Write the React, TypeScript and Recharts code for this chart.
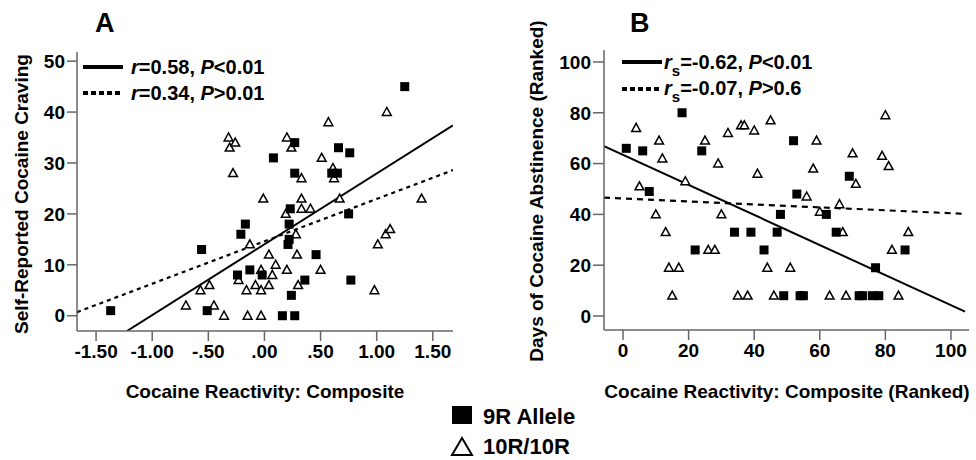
import * as React from "react";
import {
  ReferenceLine,
  Scatter,
  ScatterChart,
  XAxis,
  YAxis,
} from "recharts";

// Panel A: composite reactivity vs craving
const aAllele9R: [number, number][] = [
  [-1.37, 1], [-0.56, 13], [-0.51, 1], [-0.24, 8], [-0.21, 16], [-0.17, 18],
  [-0.13, 9], [-0.02, 8], [0.08, 31], [0.16, 0], [0.21, 14], [0.22, 15],
  [0.22, 18], [0.23, 21], [0.24, 4], [0.27, 0], [0.27, 34], [0.27, 28],
  [0.36, 7], [0.46, 12], [0.6, 28], [0.65, 28], [0.66, 33], [0.75, 20],
  [0.76, 32], [0.77, 7], [1.25, 45],
];
const a10R10R: [number, number][] = [
  [-0.7, 2], [-0.57, 5], [-0.49, 6], [-0.45, 2], [-0.36, 0], [-0.32, 35],
  [-0.31, 33], [-0.28, 28], [-0.26, 34], [-0.23, 7], [-0.16, 5], [-0.15, 0],
  [-0.13, 14], [-0.08, 6], [-0.03, 9], [-0.03, 5], [-0.03, 0], [-0.01, 23],
  [0.04, 12], [0.04, 6], [0.07, 8], [0.1, 10], [0.19, 20], [0.2, 35],
  [0.2, 9], [0.24, 33], [0.28, 16], [0.29, 12], [0.3, 6], [0.33, 27],
  [0.33, 23], [0.33, 21], [0.41, 21], [0.5, 9], [0.51, 31], [0.57, 38],
  [0.61, 29], [0.62, 27], [0.67, 23], [0.98, 5], [1.01, 14], [1.08, 16],
  [1.12, 17], [1.09, 40], [1.4, 23],
];
const aFitAll: [number, number][] = [[-1.225, -3], [1.68, 37.4]];
const aFit10R: [number, number][] = [[-1.67, 0.7], [1.68, 28.6]];
const aXTicks = [-1.5, -1, -0.5, 0, 0.5, 1, 1.5];
const aXTickLabels = ["-1.50", "-1.00", "-.50", ".00", ".50", "1.00", "1.50"];
const aYTicks = [0, 10, 20, 30, 40, 50];

// Panel B: ranked reactivity vs ranked abstinence
const bAllele9R: [number, number][] = [
  [1, 66], [6, 65], [8, 49], [18, 80], [22, 26], [24, 65], [34, 33], [39, 33],
  [43, 26], [47, 33], [48, 40], [49, 8], [52, 69], [53, 48], [54, 8], [55, 8],
  [62, 40], [65, 33], [69, 55], [72, 8], [73, 8], [76, 8], [77, 19], [78, 8],
  [86, 26],
];
const b10R10R: [number, number][] = [
  [4, 74], [5, 51], [10, 40], [11, 69], [12, 62], [13, 33], [14, 19], [15, 8],
  [17, 19], [19, 53], [25, 69], [26, 26], [28, 26], [29, 60], [30, 40],
  [32, 72], [35, 8], [36, 75], [37, 75], [38, 8], [40, 73], [41, 56], [44, 19],
  [45, 77], [46, 8], [51, 19], [56, 47], [58, 58], [59, 69], [60, 41], [63, 8],
  [66, 44], [67, 33], [68, 8], [70, 64], [71, 52], [79, 63], [80, 79], [81, 59],
  [82, 26], [84, 8], [87, 33],
];
const bFitAll: [number, number][] = [[-5.8, 66.9], [104.3, 1.7]];
const bFit10R: [number, number][] = [[-5.8, 46.6], [104.3, 40.2]];
const bTicks = [0, 20, 40, 60, 80, 100];

const FONT = "'Liberation Sans', Arial, Helvetica, sans-serif";
const AXIS = "#666";

const toPts = (arr: [number, number][]) => arr.map(([x, y]) => ({ x, y }));

const tickStyle = { fontSize: 19, fontWeight: "bold", fill: "#000", fontFamily: FONT };

function SquareMark(p: any) {
  return <rect x={p.cx - 4.5} y={p.cy - 4.5} width={9} height={9} fill="#000" />;
}

function TriMark(p: any) {
  const { cx, cy } = p;
  return (
    <path
      d={`M${cx},${cy - 4.6} L${cx + 4.4},${cy + 3.4} L${cx - 4.4},${cy + 3.4} Z`}
      fill="#fff"
      stroke="#000"
      strokeWidth={1.5}
    />
  );
}

function LineSample({ dash }: { dash?: string }) {
  return (
    <svg width={40} height={6} style={{ display: "block" }}>
      <line x1={0} y1={3} x2={40} y2={3} stroke="#000" strokeWidth={4} strokeDasharray={dash} />
    </svg>
  );
}

const abs = (left: number, top: number, extra?: React.CSSProperties): React.CSSProperties => ({
  position: "absolute",
  left,
  top,
  whiteSpace: "nowrap",
  fontFamily: FONT,
  fontWeight: "bold",
  color: "#000",
  ...extra,
});

const legendText = { fontSize: 20, lineHeight: "22px" };
const subS = { fontSize: 15, verticalAlign: "-7px", lineHeight: 0 };

export default function App() {
  return (
    <div
      style={{
        position: "absolute",
        left: 0,
        top: 0,
        width: 976,
        height: 460,
        background: "#fff",
        overflow: "hidden",
        fontFamily: FONT,
      }}
    >
      {/* Panel A */}
      <div style={{ position: "absolute", left: 0, top: 0 }}>
        <ScatterChart width={460} height={410} margin={{ top: 52, right: 7, bottom: 0, left: 0 }}>
          <XAxis
            type="number"
            dataKey="x"
            domain={[-1.67, 1.68]}
            ticks={aXTicks}
            tickFormatter={(v: number) => aXTickLabels[aXTicks.indexOf(v)] ?? String(v)}
            allowDataOverflow
            height={79}
            tickSize={10}
            tickMargin={4}
            tick={tickStyle}
            axisLine={{ stroke: AXIS, strokeWidth: 1.5 }}
            tickLine={{ stroke: AXIS, strokeWidth: 1.5 }}
          />
          <YAxis
            type="number"
            dataKey="y"
            domain={[-3, 51.8]}
            ticks={aYTicks}
            allowDataOverflow
            width={77}
            tickSize={10}
            tickMargin={2}
            tick={tickStyle}
            axisLine={{ stroke: AXIS, strokeWidth: 1.5 }}
            tickLine={{ stroke: AXIS, strokeWidth: 1.5 }}
          />
          <ReferenceLine segment={toPts(aFitAll)} stroke="#000" strokeWidth={2} ifOverflow="hidden" />
          <ReferenceLine
            segment={toPts(aFit10R)}
            stroke="#000"
            strokeWidth={2.2}
            strokeDasharray="4 4"
            ifOverflow="hidden"
          />
          <Scatter data={toPts(a10R10R)} shape={TriMark} isAnimationActive={false} />
          <Scatter data={toPts(aAllele9R)} shape={SquareMark} isAnimationActive={false} />
        </ScatterChart>
      </div>

      {/* Panel B */}
      <div style={{ position: "absolute", left: 480, top: 0 }}>
        <ScatterChart width={496} height={410} margin={{ top: 50, right: 7, bottom: 0, left: 0 }}>
          <XAxis
            type="number"
            dataKey="x"
            domain={[-5.8, 105.5]}
            ticks={bTicks}
            allowDataOverflow
            height={80}
            tickSize={10}
            tickMargin={4}
            tick={tickStyle}
            axisLine={{ stroke: AXIS, strokeWidth: 1.5 }}
            tickLine={{ stroke: AXIS, strokeWidth: 1.5 }}
          />
          <YAxis
            type="number"
            dataKey="y"
            domain={[-5.5, 104.7]}
            ticks={bTicks}
            allowDataOverflow
            width={124}
            tickSize={11}
            tickMargin={2}
            tick={tickStyle}
            axisLine={{ stroke: AXIS, strokeWidth: 1.5 }}
            tickLine={{ stroke: AXIS, strokeWidth: 1.5 }}
          />
          <ReferenceLine segment={toPts(bFitAll)} stroke="#000" strokeWidth={2} ifOverflow="hidden" />
          <ReferenceLine
            segment={toPts(bFit10R)}
            stroke="#000"
            strokeWidth={2.2}
            strokeDasharray="6 5"
            ifOverflow="hidden"
          />
          <Scatter data={toPts(b10R10R)} shape={TriMark} isAnimationActive={false} />
          <Scatter data={toPts(bAllele9R)} shape={SquareMark} isAnimationActive={false} />
        </ScatterChart>
      </div>

      {/* panel letters */}
      <div style={abs(95, 6, { fontSize: 27, lineHeight: "34px" })}>A</div>
      <div style={abs(630, 6, { fontSize: 27, lineHeight: "34px" })}>B</div>

      {/* axis titles */}
      <div
        style={abs(22, 194, {
          fontSize: 19,
          lineHeight: "22px",
          transform: "translate(-50%, -50%) rotate(-90deg)",
        })}
      >
        Self-Reported Cocaine Craving
      </div>
      <div style={abs(265, 392, { fontSize: 19, lineHeight: "22px", transform: "translate(-50%, -50%)" })}>
        Cocaine Reactivity: Composite
      </div>
      <div
        style={abs(537, 191, {
          fontSize: 19,
          lineHeight: "22px",
          transform: "translate(-50%, -50%) rotate(-90deg)",
        })}
      >
        Days of Cocaine Abstinence (Ranked)
      </div>
      <div style={abs(787, 392, { fontSize: 19, lineHeight: "22px", transform: "translate(-50%, -50%)" })}>
        Cocaine Reactivity: Composite (Ranked)
      </div>

      {/* in-plot legend A */}
      <div style={abs(83, 64)}>
        <LineSample />
      </div>
      <div style={abs(131, 56, legendText)}>
        <i>r</i>=0.58, <i>P</i>&lt;0.01
      </div>
      <div style={abs(83, 90)}>
        <LineSample dash="5 3" />
      </div>
      <div style={abs(131, 82, legendText)}>
        <i>r</i>=0.34, <i>P</i>&gt;0.01
      </div>

      {/* in-plot legend B */}
      <div style={abs(622, 59)}>
        <LineSample />
      </div>
      <div style={abs(664, 51, legendText)}>
        <i>r</i>
        <sub style={subS}>s</sub>=-0.62, <i>P</i>&lt;0.01
      </div>
      <div style={abs(622, 86)}>
        <LineSample dash="5 3" />
      </div>
      <div style={abs(664, 77, legendText)}>
        <i>r</i>
        <sub style={subS}>s</sub>=-0.07, <i>P</i>&gt;0.6
      </div>

      {/* group legend */}
      <svg style={{ position: "absolute", left: 450, top: 402 }} width={26} height={56}>
        <rect x={2} y={4} width={20} height={18} fill="#000" />
        <path d="M12,36 L22,53 L2,53 Z" fill="#fff" stroke="#000" strokeWidth={2} />
      </svg>
      <div style={abs(483, 404, { fontSize: 22, lineHeight: "26px" })}>9R Allele</div>
      <div style={abs(483, 434, { fontSize: 22, lineHeight: "26px" })}>10R/10R</div>
    </div>
  );
}
